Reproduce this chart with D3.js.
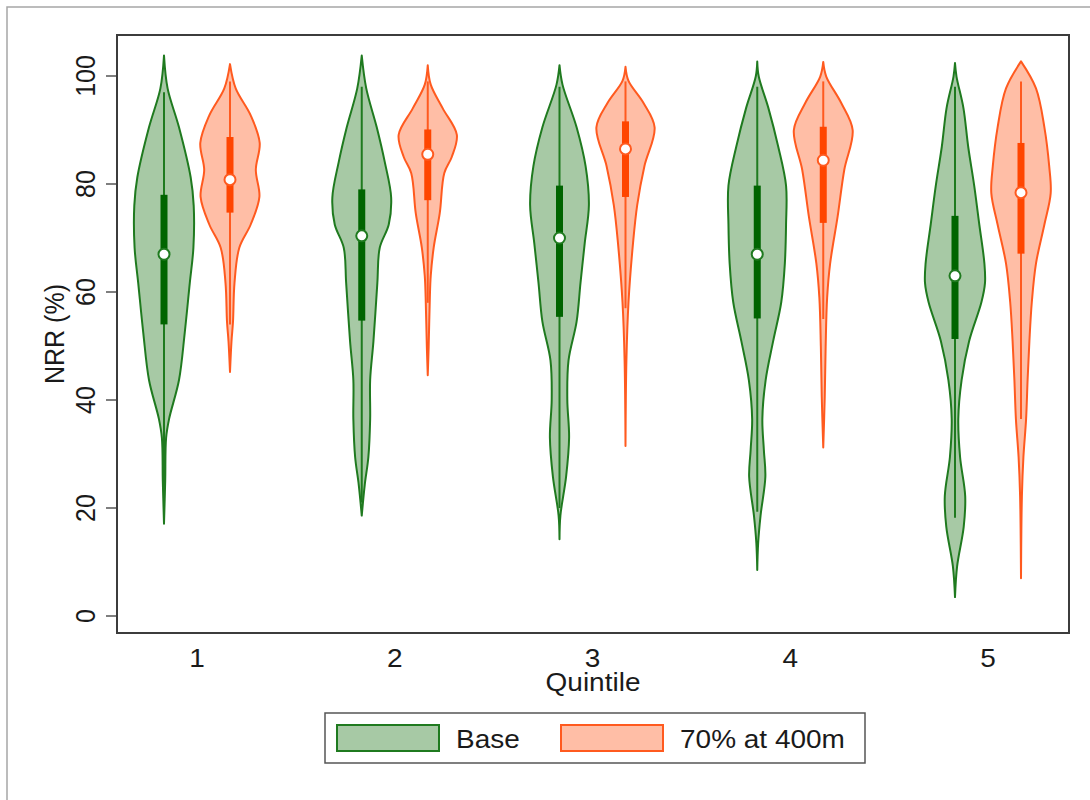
<!DOCTYPE html>
<html>
<head>
<meta charset="utf-8">
<script src="https://cdn.jsdelivr.net/npm/d3@7"></script>
<style>
  body{margin:0;background:#fff;}
  text{font-family:"Liberation Sans",Arial,sans-serif;fill:#1a1a1a;}
</style>
</head>
<body>
<div id="chart"></div>
<script>
const width=1090;
const height=800;
const quintiles=[1,2,3,4,5];
const yTicks=[0,20,40,60,80,100];
const seriesNames=["Base","70% at 400m"];

// density profiles: [NRR value, relative half-width]
const baseProfiles=[
  [[103.8,0],[97.7,.12],[90.5,.5],[81.2,.89],[76,.99],[68.2,.98],[61.7,.86],[52.4,.69],[43.7,.5],[36.5,.17],[33,.07],[25,.04],[17.1,0]],
  [[103.8,0],[97.7,.15],[90.5,.5],[84,.77],[77.5,.98],[72.5,.9],[68.2,.6],[61.7,.52],[50.9,.39],[43.7,.28],[36.5,.28],[29.4,.22],[24.3,.1],[18.6,0]],
  [[102,0],[98.4,.1],[90.5,.57],[83.3,.87],[76.1,.98],[69,.84],[61.7,.7],[54.5,.57],[47.3,.3],[40.1,.26],[33,.32],[25.8,.22],[18.6,.03],[14.2,0]],
  [[102.7,0],[99.9,.05],[94.1,.37],[86.9,.7],[79.7,.96],[72.5,.96],[65.3,.92],[58.1,.8],[50.9,.53],[43.7,.28],[36.5,.17],[30.8,.22],[25.8,.27],[18.6,.11],[13.5,.03],[8.5,0]],
  [[102.4,0],[99.9,.05],[94.1,.28],[86.9,.44],[79.7,.64],[72.5,.81],[65.3,.98],[61.7,1],[58.1,.88],[50.9,.47],[43.7,.22],[36.5,.11],[29.4,.17],[22.2,.34],[16.5,.29],[9.2,.07],[3.5,0]]
];
const scenProfiles=[
  [[102.2,0],[97.7,.19],[92.7,.69],[87.6,.99],[82.6,.86],[77.6,.98],[72.5,.69],[68.2,.31],[61.7,.15],[54.5,.1],[50.9,.05],[45.2,0]],
  [[102,0],[98.4,.1],[94,.5],[89.1,.97],[85,.8],[82,.55],[74.6,.4],[68.3,.2],[63,.1],[59,.07],[49.8,.03],[44.6,0]],
  [[101.7,0],[99.1,.1],[95,.6],[90.5,.97],[83.3,.63],[76.1,.39],[69,.25],[58.1,.1],[47.3,.03],[31.5,0]],
  [[102.6,0],[99.9,.1],[95,.6],[90,.98],[82.6,.7],[74,.48],[65.3,.23],[59,.13],[49.9,.08],[40.6,.05],[31.2,0]],
  [[102.7,0],[97.7,.5],[90.5,.78],[83.3,.94],[78.3,.99],[72.5,.78],[65.3,.5],[58.1,.36],[50.9,.28],[43.7,.22],[36.5,.17],[29.4,.08],[22.2,.03],[7,0]]
];
// box stats
const baseQ1=[54,54.7,55.4,55.1,51.3];
const baseMedian=[67,70.4,70,67,63];
const baseQ3=[78,79,79.7,79.7,74.1];
const baseLo=[20.5,21,20,19.3,18.2];
const baseHi=[97,98,98,98,98];
const scenQ1=[74.7,77,77.6,72.8,67.1];
const scenMedian=[80.8,85.5,86.5,84.4,78.4];
const scenQ3=[88.7,90.1,91.6,90.6,87.6];
const scenLo=[54,58,57,55,36.5];
const scenHi=[99,99,99,99,99];

const plot={left:117,right:1069,top:35,bottom:633};
const styles=[
  {fill:"rgb(34,120,30)",opacity:0.4,stroke:"#1f7a1f",dark:"#006400"},
  {fill:"rgb(255,69,0)",opacity:0.35,stroke:"#ff5a1f",dark:"#ff4500"}
];
const stretch=1.12;

const svg=d3.select("#chart").append("svg")
  .attr("width",width).attr("height",height);

svg.append("rect").attr("x",7).attr("y",7).attr("width",1200).attr("height",1000)
  .attr("fill","none").attr("stroke","#a6a6a6").attr("stroke-width",1.5);

const xscale=d3.scalePoint().domain(quintiles).range([197,988]);
const yscale=d3.scaleLinear().domain([0,100]).range([616,76]);
const wscale=d3.scaleLinear().domain([0,1]).range([0,30]);
const offset=33;

// y ticks and labels
yTicks.forEach(t=>{
  svg.append("line").attr("x1",106).attr("x2",plot.left).attr("y1",yscale(t)).attr("y2",yscale(t))
    .attr("stroke","#555").attr("stroke-width",1.5);
  svg.append("text").attr("text-anchor","middle").style("font-size","25px")
    .attr("transform",`translate(95,${yscale(t)}) scale(${stretch},1) rotate(-90)`)
    .text(t);
});
svg.append("text").attr("text-anchor","middle").style("font-size","25px")
  .attr("transform",`translate(64,${(plot.top+plot.bottom)/2}) scale(${stretch},1) rotate(-90)`)
  .text("NRR (%)");

quintiles.forEach(q=>{
  svg.append("text").attr("text-anchor","middle").style("font-size","25px")
    .attr("transform",`translate(${xscale(q)},667) scale(${stretch},1)`).text(q);
});
svg.append("text").attr("text-anchor","middle").style("font-size","25px")
  .attr("transform",`translate(${(plot.left+plot.right)/2},691) scale(${stretch},1)`).text("Quintile");

function drawviolin(cx,profile,q1,med,q3,lo,hi,st){
  const g=svg.append("g");
  const area=d3.area()
    .y(d=>yscale(d[0]))
    .x0(d=>cx-wscale(d[1]))
    .x1(d=>cx+wscale(d[1]))
    .curve(d3.curveCatmullRom.alpha(0.5));
  g.append("path").datum(profile).attr("d",area)
    .attr("fill",st.fill).attr("fill-opacity",st.opacity)
    .attr("stroke",st.stroke).attr("stroke-width",2).attr("stroke-linejoin","round");
  g.append("line").attr("x1",cx).attr("x2",cx).attr("y1",yscale(lo)).attr("y2",yscale(hi))
    .attr("stroke",st.stroke).attr("stroke-width",2);
  g.append("rect").attr("x",cx-3.5).attr("width",7)
    .attr("y",yscale(q3)).attr("height",yscale(q1)-yscale(q3))
    .attr("fill",st.dark);
  g.append("circle").attr("cx",cx).attr("cy",yscale(med)).attr("r",5.5)
    .attr("fill","#fff").attr("stroke",st.stroke).attr("stroke-width",2);
}

quintiles.forEach((q,i)=>{
  drawviolin(xscale(q)-offset,baseProfiles[i],baseQ1[i],baseMedian[i],baseQ3[i],baseLo[i],baseHi[i],styles[0]);
  drawviolin(xscale(q)+offset,scenProfiles[i],scenQ1[i],scenMedian[i],scenQ3[i],scenLo[i],scenHi[i],styles[1]);
});

svg.append("rect").attr("x",plot.left).attr("y",plot.top)
  .attr("width",plot.right-plot.left).attr("height",plot.bottom-plot.top)
  .attr("fill","none").attr("stroke","#3c3c3c").attr("stroke-width",2);

// legend
const legend=svg.append("g");
legend.append("rect").attr("x",325).attr("y",713).attr("width",540).attr("height",50)
  .attr("fill","#fff").attr("stroke","#555").attr("stroke-width",1.5);
const legendX=[337,561];
seriesNames.forEach((name,i)=>{
  legend.append("rect").attr("x",legendX[i]).attr("y",725).attr("width",102).attr("height",26)
    .attr("fill",styles[i].fill).attr("fill-opacity",styles[i].opacity)
    .attr("stroke",styles[i].stroke).attr("stroke-width",2);
  legend.append("text").style("font-size","25px")
    .attr("transform",`translate(${legendX[i]+119},748) scale(${stretch},1)`).text(name);
});
</script>
</body>
</html>
